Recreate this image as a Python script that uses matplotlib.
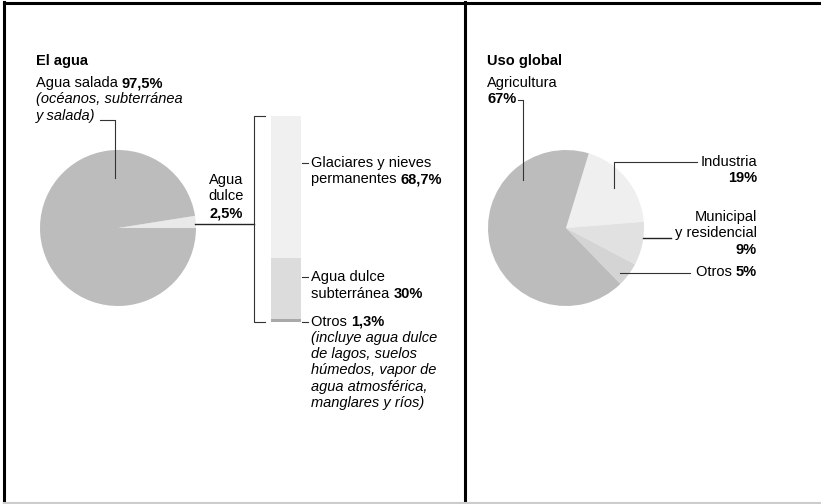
import numpy as np
import matplotlib.pyplot as plt

plt.rcParams['font.family'] = ['Liberation Sans', 'DejaVu Sans']

# datos
total_labels = ["Agua dulce", "Agua salada"]
total_values = [2.5, 97.5]

dulce_labels = ["Glaciares y nieves permanentes", "Agua dulce subterránea", "Otros"]
dulce_values = [68.7, 30.0, 1.3]

uso_labels = ["Industria", "Municipal y residencial", "Otros", "Agricultura"]
uso_values = [19, 9, 5, 67]

W, H = 821, 504
FS = 10.5


def py(y):
    # pixel y (desde arriba) -> coordenada de datos
    return H - y


fig = plt.figure(figsize=(W / 100, H / 100), dpi=100)
ax = fig.add_axes([0, 0, 1, 1])
ax.set_xlim(0, W)
ax.set_ylim(0, H)
renderer = fig.canvas.get_renderer()


def width_px(t):
    return t.get_window_extent(renderer=renderer).width


def mixed(x, y, reg, bold, ha='left'):
    # texto normal seguido de texto en negrita en la misma línea
    if ha == 'left':
        t = ax.text(x, py(y), reg, fontsize=FS, va='center')
        ax.text(x + width_px(t), py(y), bold, fontsize=FS, va='center', fontweight='bold')
    else:
        b = ax.text(x, py(y), bold, fontsize=FS, va='center', ha='right', fontweight='bold')
        ax.text(x - width_px(b), py(y), reg, fontsize=FS, va='center', ha='right')


# marco
ax.plot([4, 4], [py(2), py(503)], color='black', lw=2.2)
ax.plot([4, W], [py(2.5), py(2.5)], color='black', lw=2.2)
ax.plot([465, 465], [py(2), py(503)], color='black', lw=2.2)
ax.plot([4, W], [py(503), py(503)], color='#cccccc', lw=1.5)

# ---- panel izquierdo: El agua ----
ax.pie(total_values, colors=['#e9e9e9', '#bcbcbc'], startangle=0,
       center=(118, py(228)), radius=78, frame=True,
       wedgeprops=dict(linewidth=0))

ax.text(36, py(61), "El agua", fontsize=FS, fontweight='bold', va='center')
mixed(36, 83, "Agua salada ", "97,5%")
ax.text(36, py(99.5), "(océanos, subterránea", fontsize=FS, style='italic', va='center')
ax.text(36, py(116), "y salada)", fontsize=FS, style='italic', va='center')
ax.plot([100, 115, 115], [py(120), py(120), py(178)], color='#333333', lw=0.8)

ax.text(226, py(180), "Agua", fontsize=FS, ha='center', va='center')
ax.text(226, py(196), "dulce", fontsize=FS, ha='center', va='center')
ax.text(226, py(213), "2,5%", fontsize=FS, ha='center', va='center', fontweight='bold')

# conector y corchete
ax.plot([195, 254], [py(224), py(224)], color='#222222', lw=1.0)
ax.plot([265, 254, 254, 265], [py(116), py(116), py(322), py(322)], color='#333333', lw=0.8)

# barra apilada
bar_top, bar_h = 116, 206
dulce_colors = ['#f0f0f0', '#dcdcdc', '#a9a9a9']
bottom = py(bar_top)
for val, col in zip(dulce_values, dulce_colors):
    h = val / sum(dulce_values) * bar_h
    ax.bar(286, -h, width=30, bottom=bottom, color=col, linewidth=0)
    bottom -= h

ax.plot([302, 308], [py(163), py(163)], color='#333333', lw=0.8)
ax.text(311, py(163), "Glaciares y nieves", fontsize=FS, va='center')
mixed(311, 179.5, "permanentes ", "68,7%")

ax.plot([302, 308], [py(277), py(277)], color='#333333', lw=0.8)
ax.text(311, py(277), "Agua dulce", fontsize=FS, va='center')
mixed(311, 294, "subterránea ", "30%")

ax.plot([302, 308], [py(322), py(322)], color='#333333', lw=0.8)
mixed(311, 321.5, "Otros ", "1,3%")
otros_notas = ["(incluye agua dulce", "de lagos, suelos", "húmedos, vapor de",
               "agua atmosférica,", "manglares y ríos)"]
for i, t in enumerate(otros_notas):
    ax.text(311, py(338 + i * 16.2), t, fontsize=FS, style='italic', va='center')

# ---- panel derecho: Uso global ----
ax.pie(uso_values, colors=['#efefef', '#e1e1e1', '#d4d4d4', '#bcbcbc'],
       startangle=73, counterclock=False,
       center=(566, py(228)), radius=78, frame=True,
       wedgeprops=dict(linewidth=0))

ax.text(487, py(61), "Uso global", fontsize=FS, fontweight='bold', va='center')
ax.text(487, py(83), "Agricultura", fontsize=FS, va='center')
ax.text(487, py(99), "67%", fontsize=FS, fontweight='bold', va='center')
ax.plot([518, 523, 523], [py(100), py(100), py(180)], color='#333333', lw=0.8)

ax.plot([614, 614, 697], [py(188), py(162), py(162)], color='#333333', lw=0.8)
ax.text(757, py(162), "Industria", fontsize=FS, ha='right', va='center')
ax.text(757, py(178), "19%", fontsize=FS, ha='right', va='center', fontweight='bold')

ax.plot([643, 671], [py(238), py(238)], color='#222222', lw=1.0)
ax.text(757, py(217), "Municipal", fontsize=FS, ha='right', va='center')
ax.text(757, py(233.5), "y residencial", fontsize=FS, ha='right', va='center')
ax.text(757, py(250), "9%", fontsize=FS, ha='right', va='center', fontweight='bold')

ax.plot([620, 690], [py(273), py(273)], color='#333333', lw=0.8)
mixed(757, 272, "Otros ", "5%", ha='right')

ax.set_xlim(0, W)
ax.set_ylim(0, H)
ax.set_aspect('equal')
ax.axis('off')

fig.savefig("out.png", dpi=100, facecolor='white')
